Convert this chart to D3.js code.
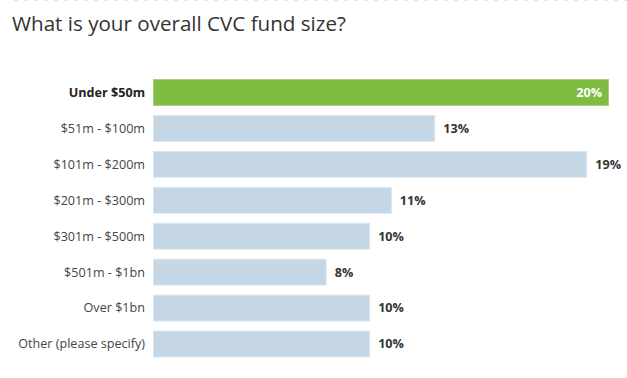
<!DOCTYPE html>
<html>
<head>
<meta charset="utf-8">
<script src="https://cdn.jsdelivr.net/npm/d3@7"></script>
<style>
  body { margin: 0; background: #fff; }
  svg { display: block; font-family: "Open Sans", sans-serif; }
</style>
</head>
<body>
<div id="chart"></div>
<script>
var categories = ["Under $50m", "$51m - $100m", "$101m - $200m", "$201m - $300m",
  "$301m - $500m", "$501m - $1bn", "Over $1bn", "Other (please specify)"];
var responses = [21, 13, 20, 11, 10, 8, 10, 10];
var highlighted = "Under $50m";

var total = d3.sum(responses);
var data = categories.map(function(c, i) {
  return {name: c, pct: responses[i] / total * 100};
});

var width = 627, height = 378;

var svg = d3.select("#chart")
  .append("svg")
  .attr("width", width)
  .attr("height", height);

// dotted rule along the top
svg.append("line")
  .attr("x1", 14).attr("x2", width)
  .attr("y1", 0.5).attr("y2", 0.5)
  .attr("stroke", "#d8e8f2")
  .attr("stroke-dasharray", "4,6");

svg.append("text")
  .attr("x", 12)
  .attr("y", 31)
  .attr("font-size", 20.6)
  .attr("fill", "#333")
  .text("What is your overall CVC fund size?");

var x = d3.scaleLinear()
  .domain([0, d3.max(data, function(d) { return d.pct; })])
  .range([153, 609]);

var y = d3.scaleBand()
  .domain(categories)
  .range([74.5, 362])
  .paddingInner(0.25)
  .paddingOuter(0.125);

var row = svg.append("g")
  .selectAll("g")
  .data(data)
  .join("g")
  .attr("transform", function(d) { return "translate(0," + y(d.name) + ")"; });

row.append("rect")
  .attr("x", x(0) + 0.5)
  .attr("y", 0.5)
  .attr("width", function(d) { return x(d.pct) - x(0) - 1; })
  .attr("height", y.bandwidth() - 1)
  .attr("fill", function(d) { return d.name == highlighted ? "#7fbc42" : "#c5d7e5"; })
  .attr("stroke", function(d) { return d.name == highlighted ? "#a6d17a" : "#dbe7f0"; })
  .attr("stroke-width", 1);

row.append("text")
  .attr("x", 145)
  .attr("y", y.bandwidth() / 2)
  .attr("dy", "0.35em")
  .attr("text-anchor", "end")
  .attr("font-size", 12.6)
  .attr("font-weight", function(d) { return d.name == highlighted ? "bold" : "normal"; })
  .attr("fill", function(d) { return d.name == highlighted ? "#222" : "#444"; })
  .text(function(d) { return d.name; });

row.append("text")
  .attr("x", function(d) { return d.name == highlighted ? x(d.pct) - 7 : x(d.pct) + 8; })
  .attr("y", y.bandwidth() / 2)
  .attr("dy", "0.35em")
  .attr("text-anchor", function(d) { return d.name == highlighted ? "end" : "start"; })
  .attr("font-size", 12.6)
  .attr("font-weight", "bold")
  .attr("fill", function(d) { return d.name == highlighted ? "#fff" : "#333"; })
  .text(function(d) { return Math.round(d.pct) + "%"; });
</script>
</body>
</html>
